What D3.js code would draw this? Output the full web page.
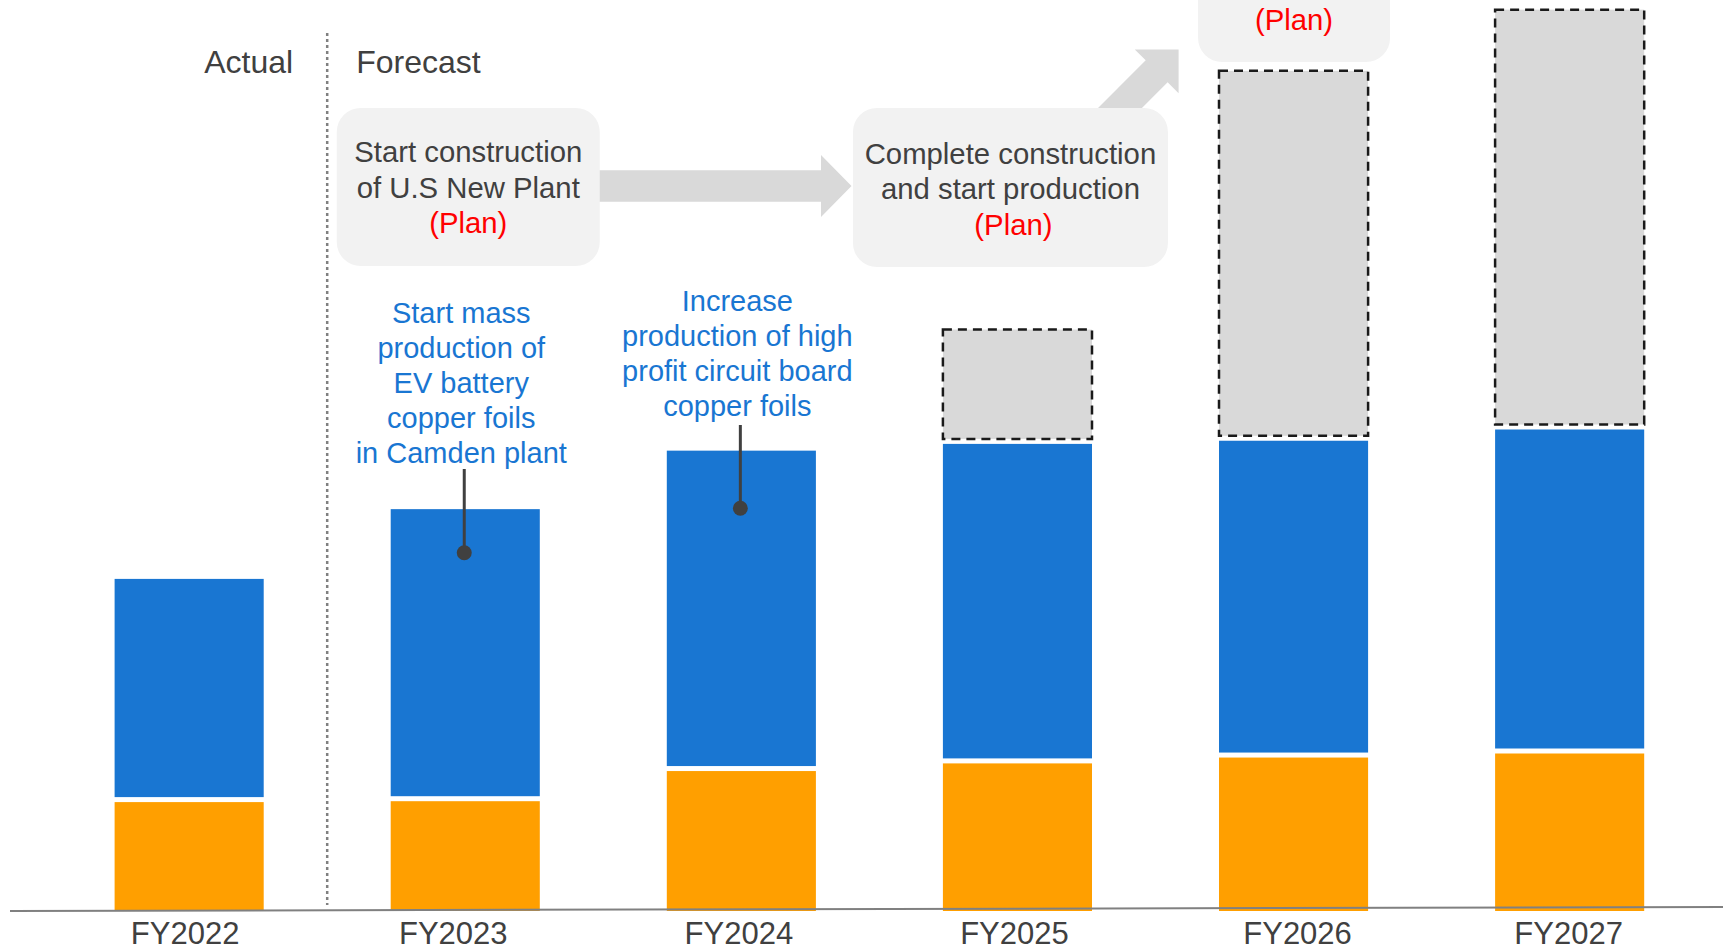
<!DOCTYPE html>
<html lang="en">
<head>
    <meta charset="UTF-8">
    <title>Copper Foil Production Plan</title>
    <script src="https://d3js.org/d3.v7.min.js"></script>
    <style>
        body {
            margin: 0;
            background: #fff;
            font-family: "Liberation Sans", Arial, sans-serif;
        }
        svg text {
            font-family: "Liberation Sans", Arial, sans-serif;
        }
    </style>
</head>
<body>
    <div id="chart"></div>

    <script>
        // values (no axis in the original, so arbitrary units)
        const years = ["FY2022", "FY2023", "FY2024", "FY2025", "FY2026", "FY2027"];
        const orangeVals = [24.2, 24.4, 31.1, 32.8, 34.1, 35.0];
        const blueVals = [49.6, 64.9, 71.2, 71.0, 70.4, 72.0];
        const planVals = [0, 0, 0, 25.4, 82.2, 93.3];

        const keys = ["orange", "blue", "plan"];
        const colors = { orange: "#ff9f00", blue: "#1976d2", plan: "#d9d9d9" };

        const width = 1723, height = 950;

        const svg = d3.select("#chart").append("svg")
            .attr("width", width)
            .attr("height", height);

        const x = d3.scaleBand().domain(years).range([-12.4, 1771.2]).padding(0.46);
        const y = d3.scaleLinear().domain([0, 200]).range([911, 11]);
        const cx = d => x(d) + x.bandwidth() / 2;

        const table = years.map((yr, i) => ({
            year: yr, orange: orangeVals[i], blue: blueVals[i], plan: planVals[i]
        }));
        const stacked = d3.stack().keys(keys)(table);

        // divider between actual and forecast
        const divX = (x("FY2022") + x.bandwidth() + x("FY2023")) / 2;
        svg.append("line")
            .attr("x1", divX).attr("x2", divX)
            .attr("y1", 33).attr("y2", 905)
            .attr("stroke", "#808080")
            .attr("stroke-width", 2.5)
            .attr("stroke-dasharray", "3,3");

        svg.append("text")
            .attr("x", divX - 34).attr("y", 73)
            .attr("text-anchor", "end")
            .attr("font-size", 32)
            .attr("fill", "#404040")
            .text("Actual");

        svg.append("text")
            .attr("x", divX + 29).attr("y", 73)
            .attr("font-size", 32)
            .attr("fill", "#404040")
            .text("Forecast");

        // block arrows (drawn before the boxes so they tuck underneath)
        function blockArrow(x0, y0, x1, y1, shaft, head, headLen) {
            const len = Math.hypot(x1 - x0, y1 - y0);
            const ang = Math.atan2(y1 - y0, x1 - x0) * 180 / Math.PI;
            const b = len - headLen;
            const pts = [
                [0, -shaft / 2], [b, -shaft / 2], [b, -head / 2], [len, 0],
                [b, head / 2], [b, shaft / 2], [0, shaft / 2]
            ];
            svg.append("path")
                .attr("d", "M" + pts.map(p => p.join(",")).join("L") + "Z")
                .attr("transform", `translate(${x0},${y0}) rotate(${ang})`)
                .attr("fill", "#d9d9d9");
        }
        blockArrow(590, 186, 851.5, 186, 31.5, 62, 30.5);
        blockArrow(1100, 128, 1178.6, 49.4, 31, 62, 31);

        // plan boxes
        const boxes = [
            { c: cx("FY2023") + 3, w: 263, top: 108, bottom: 266,
              lines: ["Start construction", "of U.S New Plant"], base: 162, planDx: 0 },
            { c: cx("FY2025") - 7, w: 315, top: 108, bottom: 267,
              lines: ["Complete construction", "and start production"], base: 163.5, planDx: 3 },
            { c: cx("FY2026") + 0.5, w: 192, top: -120, bottom: 62,
              lines: [], base: -40, planDx: 0 }
        ];
        boxes.forEach(b => {
            svg.append("rect")
                .attr("x", b.c - b.w / 2).attr("y", b.top)
                .attr("width", b.w).attr("height", b.bottom - b.top)
                .attr("rx", 24).attr("ry", 24)
                .attr("fill", "#f2f2f2");
            const t = svg.append("text")
                .attr("text-anchor", "middle")
                .attr("font-size", 29.3);
            b.lines.forEach((ln, i) => {
                t.append("tspan")
                    .attr("x", b.c).attr("y", b.base + i * 35.5)
                    .attr("fill", "#404040")
                    .text(ln);
            });
            t.append("tspan")
                .attr("x", b.c + b.planDx).attr("y", b.lines.length ? b.base + b.lines.length * 35.5 : 30)
                .attr("fill", "#ff0000")
                .text("(Plan)");
        });

        // stacked bars, with a thin white gap between segments
        const gap = 5;
        stacked.forEach((layer, li) => {
            const k = layer.key;
            svg.append("g").selectAll("rect")
                .data(layer.filter(d => d[1] - d[0] > 0))
                .join("rect")
                .attr("x", d => x(d.data.year))
                .attr("width", x.bandwidth())
                .attr("y", d => y(d[1]))
                .attr("height", d => y(d[0]) - y(d[1]) - (li > 0 ? gap : 0))
                .attr("fill", colors[k])
                .attr("stroke", k === "plan" ? "#1a1a1a" : "none")
                .attr("stroke-width", k === "plan" ? 2.5 : 0)
                .attr("stroke-dasharray", k === "plan" ? "9,6" : null);
        });

        // baseline (slightly tilted in the original)
        svg.append("line")
            .attr("x1", 10).attr("y1", 911)
            .attr("x2", 1723).attr("y2", 907)
            .attr("stroke", "#808080")
            .attr("stroke-width", 2);

        // category axis; the labels in the original sit a little off-centre
        const labelShift = [-4, -12, -2.5, -3, 4, -1];
        const xAxis = svg.append("g")
            .attr("transform", "translate(0,911)")
            .call(d3.axisBottom(x).tickSize(0).tickPadding(11));
        xAxis.select(".domain").remove();
        xAxis.selectAll("text")
            .attr("dx", (d, i) => labelShift[i])
            .attr("font-size", 31)
            .attr("font-family", "Liberation Sans, Arial, sans-serif")
            .attr("fill", "#404040");

        // blue call-outs with leader lines
        const notes = [
            { year: "FY2023", dx: -4, lines: ["Start mass", "production of", "EV battery", "copper foils", "in Camden plant"],
              base: 322.7, lineTop: 469, dotY: 552.7 },
            { year: "FY2024", dx: -4, lines: ["Increase", "production of high", "profit circuit board", "copper foils"],
              base: 310.7, lineTop: 425, dotY: 508.3 }
        ];
        notes.forEach(n => {
            const t = svg.append("text")
                .attr("text-anchor", "middle")
                .attr("font-size", 29)
                .attr("fill", "#1976d2");
            n.lines.forEach((ln, i) => {
                t.append("tspan")
                    .attr("x", cx(n.year) + n.dx)
                    .attr("y", n.base + i * 35)
                    .text(ln);
            });
            const lx = cx(n.year) - 1;
            svg.append("line")
                .attr("x1", lx).attr("x2", lx)
                .attr("y1", n.lineTop).attr("y2", n.dotY)
                .attr("stroke", "#404040")
                .attr("stroke-width", 3);
            svg.append("circle")
                .attr("cx", lx).attr("cy", n.dotY)
                .attr("r", 7.5)
                .attr("fill", "#404040");
        });
    </script>
</body>
</html>
